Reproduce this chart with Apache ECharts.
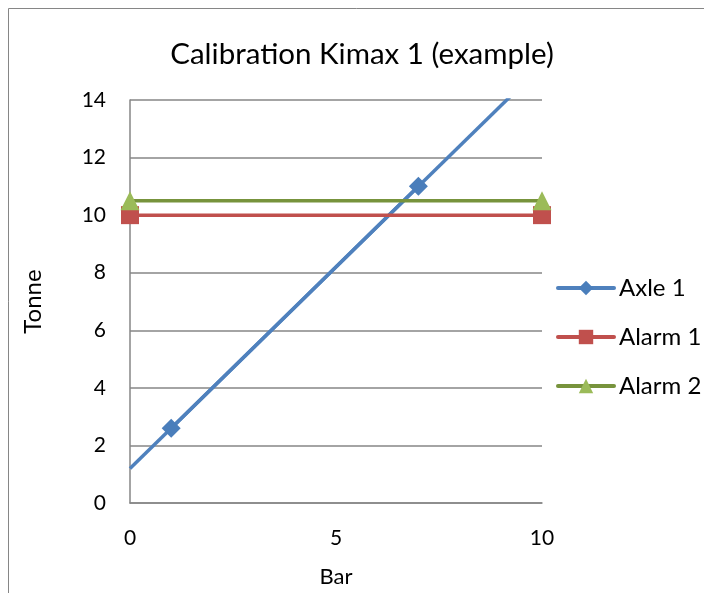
<!DOCTYPE html>
<html><head><meta charset="utf-8">
<script src="https://cdn.jsdelivr.net/npm/echarts@6/dist/echarts.min.js"></script>
<style>html,body{margin:0;padding:0;background:#fff}#c{width:704px;height:593px}</style>
</head><body><div id="c"></div>
<script>
var titleText = 'Calibration Kimax 1 (example)';
var xName = 'Bar';
var yName = 'Tonne';
var axleX = [1, 7];
var axleY = [2.6, 11];
var alarm1X = [0, 10];
var alarm1Y = [10, 10];
var alarm2X = [0, 10];
var alarm2Y = [10.5, 10.5];
var trendRange = [0, 10];

function pairs(xs, ys){ return xs.map(function(x,i){ return [x, ys[i]]; }); }
function linFit(xs, ys){
  var n = xs.length, sx=0, sy=0, sxx=0, sxy=0;
  for (var i=0;i<n;i++){ sx+=xs[i]; sy+=ys[i]; sxx+=xs[i]*xs[i]; sxy+=xs[i]*ys[i]; }
  var b = (n*sxy - sx*sy)/(n*sxx - sx*sx);
  var a = (sy - b*sx)/n;
  return function(x){ return a + b*x; };
}
var fit = linFit(axleX, axleY);
var trend = trendRange.map(function(x){ return [x, fit(x)]; });

var FONT = 'Lato';
var chart = echarts.init(document.getElementById('c'));
chart.setOption({
  animation: false,
  textStyle: {fontFamily: FONT},
  title: {text: titleText, left: 357, top: 34, textAlign: 'center',
    textStyle: {fontFamily: FONT, fontSize: 29.5, fontWeight: 'normal', color: '#000'}},
  graphic: [{type: 'rect', shape: {x: 8.5, y: 8.5, width: 720, height: 620},
    style: {fill: 'none', stroke: '#868686', lineWidth: 1}, silent: true}],
  grid: {left: 130, right: 162, top: 100, bottom: 89},
  legend: {orient: 'vertical', left: 556, top: 276, padding: 0, itemWidth: 56, itemHeight: 18, itemGap: 25,
    lineStyle: {width: 4, cap: 'round'},
    textStyle: {fontFamily: FONT, fontSize: 24, color: '#000'},
    data: ['Axle 1', 'Alarm 1', 'Alarm 2']},
  xAxis: {type: 'value', min: 0, max: 10, interval: 5,
    name: xName, nameLocation: 'middle', nameGap: 63,
    nameTextStyle: {fontFamily: FONT, fontSize: 22, color: '#000'},
    axisLine: {show: true, lineStyle: {color: '#868686', width: 1.5}},
    axisTick: {show: false},
    axisLabel: {fontFamily: FONT, fontSize: 21, color: '#000', margin: 25},
    splitLine: {show: false}},
  yAxis: {type: 'value', min: 0, max: 14, interval: 2,
    name: yName, nameLocation: 'middle', nameGap: 85,
    nameTextStyle: {fontFamily: FONT, fontSize: 24, color: '#000'},
    axisLine: {show: true, lineStyle: {color: '#868686', width: 1.5}},
    axisTick: {show: false},
    axisLabel: {fontFamily: FONT, fontSize: 21, color: '#000', margin: 24},
    splitLine: {show: true, lineStyle: {color: '#868686', width: 1.5}}},
  series: [
    {name: 'Axle 1', type: 'line', data: pairs(axleX, axleY), symbol: 'diamond', symbolSize: 19,
      itemStyle: {color: '#4A7EBB'}, lineStyle: {color: '#4F81BD', width: 3.5}, z: 3},
    {name: 'Axle 1 trend', type: 'line', data: trend, symbol: 'none', clip: true,
      lineStyle: {color: '#4F81BD', width: 3.5}, z: 2, legendHoverLink: false},
    {name: 'Alarm 1', type: 'line', data: pairs(alarm1X, alarm1Y), symbol: 'rect', symbolSize: 18,
      itemStyle: {color: '#C0504D'}, lineStyle: {color: '#C0504D', width: 3.5}, z: 4},
    {name: 'Alarm 2', type: 'line', data: pairs(alarm2X, alarm2Y), symbol: 'triangle', symbolSize: 19,
      itemStyle: {color: '#9BBB59'}, lineStyle: {color: '#77933C', width: 3.5}, z: 5}
  ]
});
</script></body></html>
